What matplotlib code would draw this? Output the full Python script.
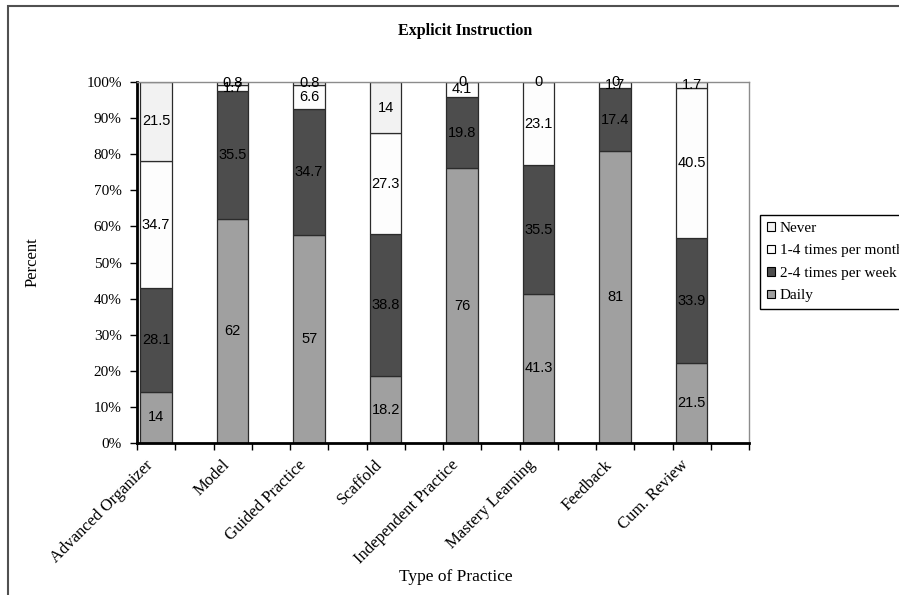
import numpy as np
import matplotlib
matplotlib.use("Agg")
import matplotlib.pyplot as plt
from matplotlib.patches import Patch, Rectangle
from matplotlib.ticker import FixedLocator, FuncFormatter

# Survey responses per practice type (percent of respondents)
practices = [
    "Advanced Organizer",
    "Model",
    "Guided Practice",
    "Scaffold",
    "Independent Practice",
    "Mastery Learning",
    "Feedback",
    "Cum. Review",
]
daily = [14, 62, 57, 18.2, 76, 41.3, 81, 21.5]
per_week = [28.1, 35.5, 34.7, 38.8, 19.8, 35.5, 17.4, 33.9]
per_month = [34.7, 1.7, 6.6, 27.3, 4.1, 23.1, 1.7, 40.5]
never = [21.5, 0.8, 0.8, 14, 0, 0, 0, 1.7]

series_names = ["Daily", "2-4 times per week", "1-4 times per month", "Never"]
series_colors = ["#a0a0a0", "#4d4d4d", "#fdfdfd", "#f2f2f2"]

serif = ["Liberation Serif", "DejaVu Serif"]
sans = ["Liberation Sans", "DejaVu Sans"]

W, H = 899, 595
fig = plt.figure(figsize=(W / 100, H / 100), dpi=100)
fig.patch.set_facecolor("white")


def fx(px):
    return px / W


def fy(py):
    return 1 - py / H


ax = fig.add_axes([fx(137), fy(443), fx(749) - fx(137), fy(82) - fy(443)])

# 100% stacked bars: every bar sits in every other category slot
series = np.array([daily, per_week, per_month, never], dtype=float)
totals = series.sum(axis=0)
shares = series / totals * 100
xpos = np.arange(len(practices)) * 2

bottom = np.zeros(len(practices))
for vals, share, color, name in zip(series, shares, series_colors, series_names):
    ax.bar(xpos, share, bottom=bottom, width=0.83, color=color,
           edgecolor="#2b2b2b", linewidth=0.9, label=name, zorder=2)
    for x, v, s, b in zip(xpos, vals, share, bottom):
        ax.text(x, b + s / 2, f"{v:g}", ha="center", va="center",
                fontsize=10.5, family=sans, color="black", zorder=3, clip_on=False)
    bottom = bottom + share

ax.set_xlim(-0.5, 15.5)
ax.set_ylim(0, 100)

ax.xaxis.set_major_locator(FixedLocator(xpos))
ax.set_xticklabels(practices, rotation=45, ha="right", va="top",
                   family=serif, fontsize=12)
ax.xaxis.set_minor_locator(FixedLocator(np.arange(-0.5, 16, 1)))
ax.tick_params(axis="x", which="major", length=0, pad=10)
ax.tick_params(axis="x", which="minor", length=5, width=1, direction="out")

ax.set_yticks(np.arange(0, 101, 10))
ax.yaxis.set_major_formatter(FuncFormatter(lambda v, p: f"{v:.0f}%"))
ax.tick_params(axis="y", length=5, width=1, direction="out", pad=6)
for lbl in ax.get_yticklabels():
    lbl.set_family(serif)
    lbl.set_fontsize(11)

for side in ["left", "bottom"]:
    ax.spines[side].set_color("black")
    ax.spines[side].set_linewidth(2)
for side in ["top", "right"]:
    ax.spines[side].set_color("#8c8c8c")
    ax.spines[side].set_linewidth(1)

# Titles
fig.text(fx(465), fy(31), "Explicit Instruction", ha="center", va="center",
         family=serif, fontsize=11.5, fontweight="bold")
fig.text(fx(456), fy(577), "Type of Practice", ha="center", va="center",
         family=serif, fontsize=12.5)
fig.text(fx(33), fy(262), "Percent", ha="center", va="center",
         rotation=90, family=serif, fontsize=12)

# Legend, listed top to bottom as stacked
handles = [Patch(facecolor=c, edgecolor="black", linewidth=0.8)
           for c in series_colors][::-1]
leg = fig.legend(handles, series_names[::-1], loc="upper left",
                 bbox_to_anchor=(fx(760), fy(215)), frameon=True,
                 fancybox=False, edgecolor="black", framealpha=1,
                 prop={"family": serif, "size": 11},
                 handlelength=0.5, handleheight=0.5, handletextpad=0.35,
                 labelspacing=0.62, borderpad=0.45, borderaxespad=0)
leg.get_frame().set_linewidth(1)

# Chart area border
fig.patches.append(Rectangle((fx(8), -0.1), 1.2, fy(6) + 0.1,
                             transform=fig.transFigure, fill=False,
                             edgecolor="#505050", linewidth=1.5))

fig.savefig("out.png", dpi=100)
